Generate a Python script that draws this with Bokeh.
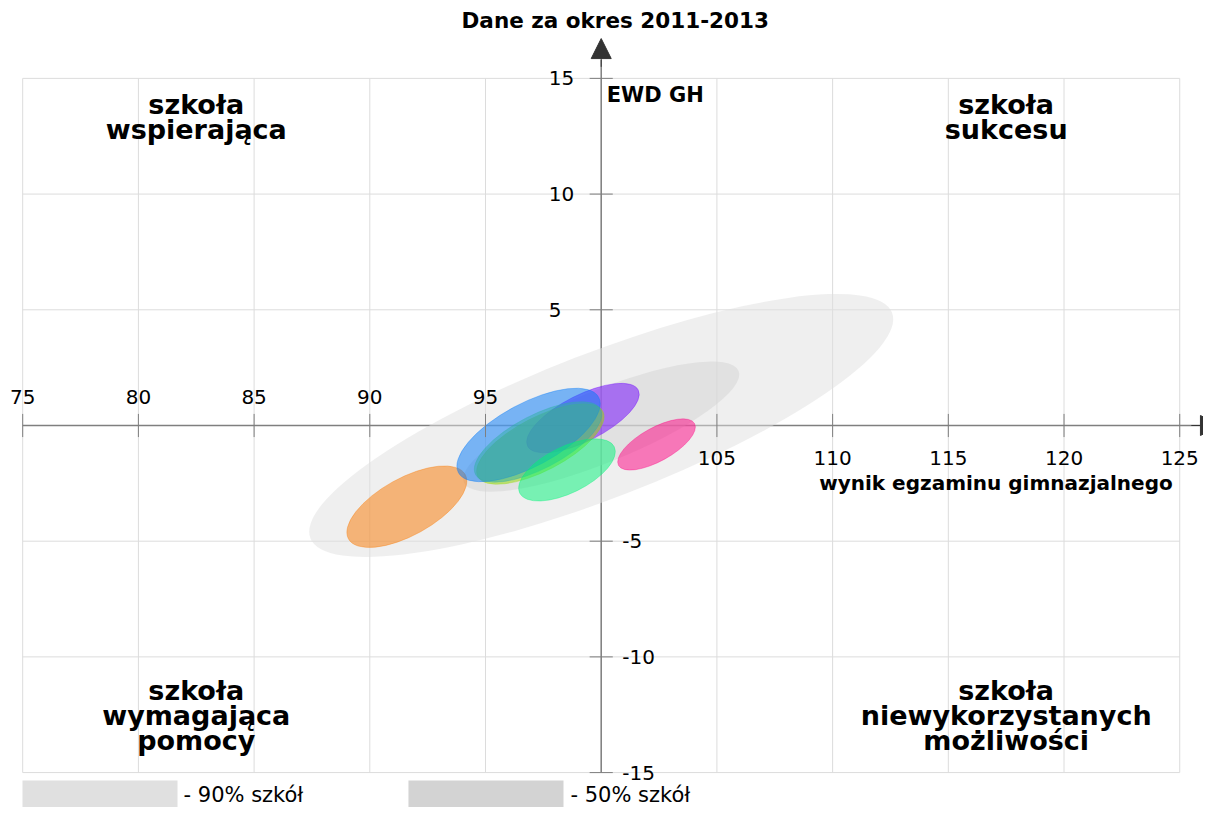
import math
from bokeh.plotting import figure
from bokeh.models import Range1d, Arrow, NormalHead
from bokeh.core.properties import value
from bokeh.embed import file_html
from bokeh.resources import INLINE

# ---------------- texts ----------------
title_text = "Dane za okres 2011-2013"
x_axis_title = "wynik egzaminu gimnazjalnego"
y_axis_title = "EWD GH"
quad_top_left = ["szkoła", "wspierająca"]
quad_top_right = ["szkoła", "sukcesu"]
quad_bottom_left = ["szkoła", "wymagająca", "pomocy"]
quad_bottom_right = ["szkoła", "niewykorzystanych", "możliwości"]

# ---------------- ticks ----------------
x_ticks_above = [75, 80, 85, 90, 95]
x_ticks_below = [105, 110, 115, 120, 125]
y_ticks_left = [15, 10, 5]
y_ticks_right = [-5, -10, -15]
grid_x = [75, 80, 85, 90, 95, 100, 105, 110, 115, 120, 125]
grid_y = [-15, -10, -5, 0, 5, 10, 15]

# ---------------- reference ellipses (90% / 50% of schools) ----------------
ref_labels = ["- 90% szkół", "- 50% szkół"]
ref_cx = [100.0, 100.0]
ref_cy = [0.0, -0.05]
ref_w = [26.96, 12.81]
ref_h = [6.27, 3.12]
ref_angle = [21.2, 22.1]
ref_colors = ["#e0e0e0", "#d3d3d3"]

# ---------------- school ellipses (drawing order) ----------------
school_cx = [91.60, 99.21, 97.37, 96.86, 97.27, 98.52, 102.39]
school_cy = [-3.51, 0.32, -0.80, -0.41, -0.71, -1.92, -0.82]
school_w = [5.76, 5.36, 6.09, 6.88, 6.09, 4.55, 3.75]
school_h = [2.47, 1.99, 2.31, 2.72, 2.31, 2.00, 1.45]
school_angle = [28.9, 26.9, 27.5, 28.25, 27.5, 26.1, 28.9]
school_colors = ["#fa7800", "#6e00ff", "#96dc00", "#0078fa", "#32afa5", "#00f478", "#ff0082"]

FONT = value("DejaVu Sans")

p = figure(width=1203, height=807,
           x_range=Range1d(74.0406, 126.0276), y_range=Range1d(-16.509, 18.366),
           output_backend="svg", toolbar_location=None,
           x_axis_type=None, y_axis_type=None, min_border=0)
p.outline_line_color = None
p.background_fill_color = "white"
p.border_fill_color = "white"

xmin, xmax = grid_x[0], grid_x[-1]
ymin, ymax = grid_y[0], grid_y[-1]

# grid
p.segment(x0=grid_x, y0=[ymin] * len(grid_x), x1=grid_x, y1=[ymax] * len(grid_x),
          line_color="#dcdcdc", line_width=1)
p.segment(x0=[xmin] * len(grid_y), y0=grid_y, x1=[xmax] * len(grid_y), y1=grid_y,
          line_color="#dcdcdc", line_width=1)

# axes through the centre
AX = "#7f7f7f"
p.line(x=[xmin, 125.9], y=[0, 0], line_color=AX, line_width=1.5)
p.line(x=[100, 100], y=[ymin, 15.8], line_color=AX, line_width=1.5)
p.add_layout(Arrow(end=NormalHead(size=20, fill_color="#333333", line_color="#333333"),
                   x_start=125.5, y_start=0, x_end=126.76, y_end=0,
                   line_color="#333333", line_width=1))
p.add_layout(Arrow(end=NormalHead(size=20, fill_color="#333333", line_color="#333333"),
                   x_start=100, y_start=15.5, x_end=100, y_end=16.72,
                   line_color="#333333", line_width=1))

# reference ellipses
p.ellipse(x=ref_cx, y=ref_cy, width=ref_w, height=ref_h,
          angle=[math.radians(a) for a in ref_angle],
          fill_color=ref_colors, fill_alpha=0.5, line_color=None)

# school ellipses
p.ellipse(x=school_cx, y=school_cy, width=school_w, height=school_h,
          angle=[math.radians(a) for a in school_angle],
          fill_color=school_colors, fill_alpha=0.5,
          line_color=school_colors, line_alpha=0.35, line_width=1)

# tick marks
all_x_ticks = x_ticks_above + x_ticks_below
p.segment(x0=all_x_ticks, y0=[-0.5] * len(all_x_ticks), x1=all_x_ticks, y1=[0.5] * len(all_x_ticks),
          line_color=AX, line_width=1)
all_y_ticks = y_ticks_left + y_ticks_right
p.segment(x0=[99.5] * len(all_y_ticks), y0=all_y_ticks, x1=[100.5] * len(all_y_ticks), y1=all_y_ticks,
          line_color=AX, line_width=1)

# tick labels
p.text(x=x_ticks_above, y=[0] * len(x_ticks_above), text=[str(v) for v in x_ticks_above],
       text_align="center", text_baseline="middle", y_offset=-28,
       text_font=FONT, text_font_size="20px", text_color="black")
p.text(x=x_ticks_below, y=[0] * len(x_ticks_below), text=[str(v) for v in x_ticks_below],
       text_align="center", text_baseline="middle", y_offset=33,
       text_font=FONT, text_font_size="20px", text_color="black")
p.text(x=[100] * len(y_ticks_left), y=y_ticks_left, text=[str(v) for v in y_ticks_left],
       text_align="left", text_baseline="middle", x_offset=-52.5,
       text_font=FONT, text_font_size="20px", text_color="black")
p.text(x=[100] * len(y_ticks_right), y=y_ticks_right, text=[str(v) for v in y_ticks_right],
       text_align="left", text_baseline="middle", x_offset=21,
       text_font=FONT, text_font_size="20px", text_color="black")

# titles
p.text(x=[100], y=[15], text=[title_text], text_align="center", text_baseline="middle",
       x_offset=14, y_offset=-58, text_font=FONT, text_font_style="bold",
       text_font_size="21.5px", text_color="black")
p.text(x=[100], y=[15], text=[y_axis_title], text_align="left", text_baseline="middle",
       x_offset=5.5, y_offset=17, text_font=FONT, text_font_style="bold",
       text_font_size="21px", text_color="black")
p.text(x=[125], y=[0], text=[x_axis_title], text_align="right", text_baseline="middle",
       x_offset=-7, y_offset=58, text_font=FONT, text_font_style="bold",
       text_font_size="20px", text_color="black")

# quadrant labels
def quad(lines, x, y_first):
    p.text(x=[x] * len(lines), y=[y_first - 1.08 * i for i in range(len(lines))], text=lines,
           text_align="center", text_baseline="middle", text_font=FONT,
           text_font_style="bold", text_font_size="27px", text_color="black")

quad(quad_top_left, 82.5, 13.87)
quad(quad_top_right, 117.5, 13.87)
quad(quad_bottom_left, 82.5, -11.45)
quad(quad_bottom_right, 117.5, -11.45)

# legend swatches (kept inside the figure's bottom edge)
leg_x = [78.34, 95.02]
p.rect(x=leg_x, y=[-15.925] * 2, width=[6.70] * 2, height=[1.16] * 2,
       fill_color=ref_colors, line_color=None)
p.text(x=[81.95, 98.67], y=[-15.96] * 2, text=ref_labels, text_align="left",
       text_baseline="middle", text_font=FONT, text_font_size="21px", text_color="black")

open("out.html", "w").write(file_html(p, INLINE))
